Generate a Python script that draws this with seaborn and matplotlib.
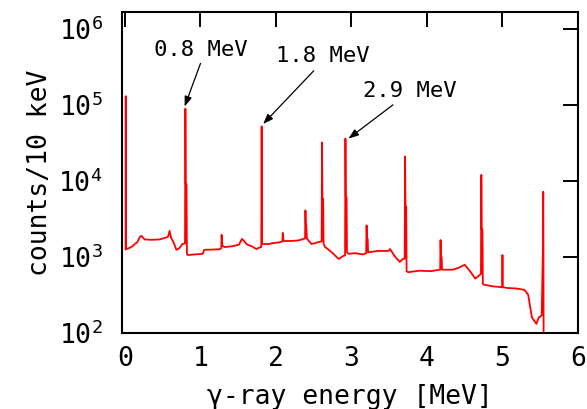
import matplotlib
matplotlib.use('Agg')
import numpy as np
import pandas as pd
import seaborn as sns
import matplotlib.pyplot as plt
from matplotlib.ticker import FixedLocator, FuncFormatter, NullLocator

# ---- spectrum (energy in MeV, counts per 10 keV) ----
energy = [0.008, 0.010, 0.013, 0.05, 0.10, 0.13, 0.16, 0.20, 0.22, 0.26,
          0.35, 0.46, 0.53, 0.57, 0.59, 0.61, 0.65, 0.68, 0.72, 0.76,
          0.795, 0.800, 0.805, 0.815, 0.820, 0.83, 0.93, 1.03, 1.05, 1.15,
          1.25, 1.275, 1.280, 1.29, 1.32, 1.42, 1.51, 1.55, 1.58, 1.62,
          1.68, 1.74, 1.78, 1.805, 1.810, 1.815, 1.85, 1.91, 1.95, 2.04,
          2.085, 2.090, 2.10, 2.11, 2.20, 2.30, 2.37, 2.385, 2.390, 2.395,
          2.400, 2.41, 2.47, 2.52, 2.57, 2.605, 2.610, 2.615, 2.625, 2.63,
          2.65, 2.70, 2.76, 2.83, 2.89, 2.915, 2.920, 2.925, 2.935, 2.94,
          2.96, 3.05, 3.15, 3.195, 3.200, 3.205, 3.215, 3.22, 3.35, 3.49,
          3.51, 3.58, 3.64, 3.68, 3.705, 3.710, 3.715, 3.725, 3.73, 3.75,
          3.90, 4.05, 4.175, 4.180, 4.185, 4.195, 4.20, 4.34, 4.42, 4.50,
          4.57, 4.64, 4.70, 4.715, 4.720, 4.725, 4.735, 4.74, 4.76, 4.88,
          4.995, 5.000, 5.005, 5.07, 5.18, 5.29, 5.34, 5.39, 5.45, 5.48,
          5.52, 5.535, 5.540, 5.543, 5.545]
counts = [1250, 130000, 1270, 1300, 1380, 1480, 1550, 1850, 1890, 1700,
          1680, 1700, 1780, 1850, 2200, 1800, 1500, 1240, 1300, 1480,
          1500, 89000, 9000, 9000, 1100, 1060, 1080, 1100, 1240, 1250,
          1260, 1300, 1950, 1400, 1350, 1380, 1450, 1730, 1600, 1450,
          1380, 1270, 1330, 1350, 52000, 1480, 1480, 1480, 1520, 1550,
          1600, 2070, 1650, 1620, 1620, 1650, 1730, 1750, 4100, 2700,
          2700, 1750, 1480, 1520, 1580, 1600, 32000, 5800, 5800, 1500,
          1350, 1240, 1100, 940, 1030, 1050, 36000, 6100, 6100, 1150,
          1100, 1120, 1080, 1120, 2600, 1730, 1730, 1150, 1200, 1200,
          1270, 1000, 860, 940, 950, 21000, 4600, 4600, 650, 630,
          660, 650, 680, 1670, 1000, 1000, 680, 680, 720, 790,
          650, 520, 580, 600, 12000, 2300, 2300, 440, 430, 410,
          400, 1060, 400, 390, 385, 370, 320, 160, 132, 160,
          170, 1170, 7200, 1170, 100]

peak_labels = ['0.8 MeV', '1.8 MeV', '2.9 MeV']
label_x = [1.01, 2.62, 3.77]
label_y = [5.3e5, 4.4e5, 1.52e5]
arrow_from = [(1.00, 3.5e5), (2.50, 2.8e5), (3.55, 1.0e5)]
arrow_to = [(0.79, 9.5e4), (1.83, 5.6e4), (2.96, 3.6e4)]

xticks = [0, 1, 2, 3, 4, 5, 6]
yticks = [1e2, 1e3, 1e4, 1e5, 1e6]

df = pd.DataFrame({'energy': energy, 'counts': counts})

sns.set_style('white')
plt.rcParams['font.family'] = ['DejaVu Sans Mono', 'DejaVu Sans']
plt.rcParams['mathtext.default'] = 'regular'
plt.rcParams['text.color'] = 'black'
plt.rcParams['axes.labelcolor'] = 'black'

fig = plt.figure(figsize=(5.87, 4.09), dpi=100)
ax = fig.add_axes([0.2078, 0.1858, 0.7768, 0.7848])

sns.lineplot(data=df, x='energy', y='counts', ax=ax, color='#ff0000',
             linewidth=1.3, estimator=None, sort=False)

ax.set_yscale('log')
ax.set_xlim(-0.04, 6.0)
ax.set_ylim(1e2, 10 ** 6.22)
ax.xaxis.set_major_locator(FixedLocator(xticks))
ax.yaxis.set_major_locator(FixedLocator(yticks))
ax.yaxis.set_minor_locator(NullLocator())
ax.yaxis.set_major_formatter(FuncFormatter(lambda v, p: r'$10^{%d}$' % round(np.log10(v))))

for s in ax.spines.values():
    s.set_visible(True)
    s.set_color('black')
    s.set_linewidth(1.5)

ax.tick_params(axis='both', which='major', direction='in', length=11, width=1.4,
               top=True, right=True, labelsize=19, colors='black')
ax.tick_params(axis='x', pad=9)
ax.tick_params(axis='y', pad=14)

ax.set_xlabel('γ-ray energy [MeV]', fontsize=19, labelpad=9)
ax.set_ylabel('counts/10 keV', fontsize=19, labelpad=4)

# peak labels and arrows
for txt, tx, ty, a0, a1 in zip(peak_labels, label_x, label_y, arrow_from, arrow_to):
    ax.text(tx, ty, txt, fontsize=16, ha='center', va='center', color='black')
    ax.annotate('', xy=a1, xytext=a0,
                arrowprops=dict(arrowstyle='-|>,head_length=0.6,head_width=0.22',
                                color='black', lw=0.9, shrinkA=0, shrinkB=0))

plt.savefig('out.png', dpi=100)
